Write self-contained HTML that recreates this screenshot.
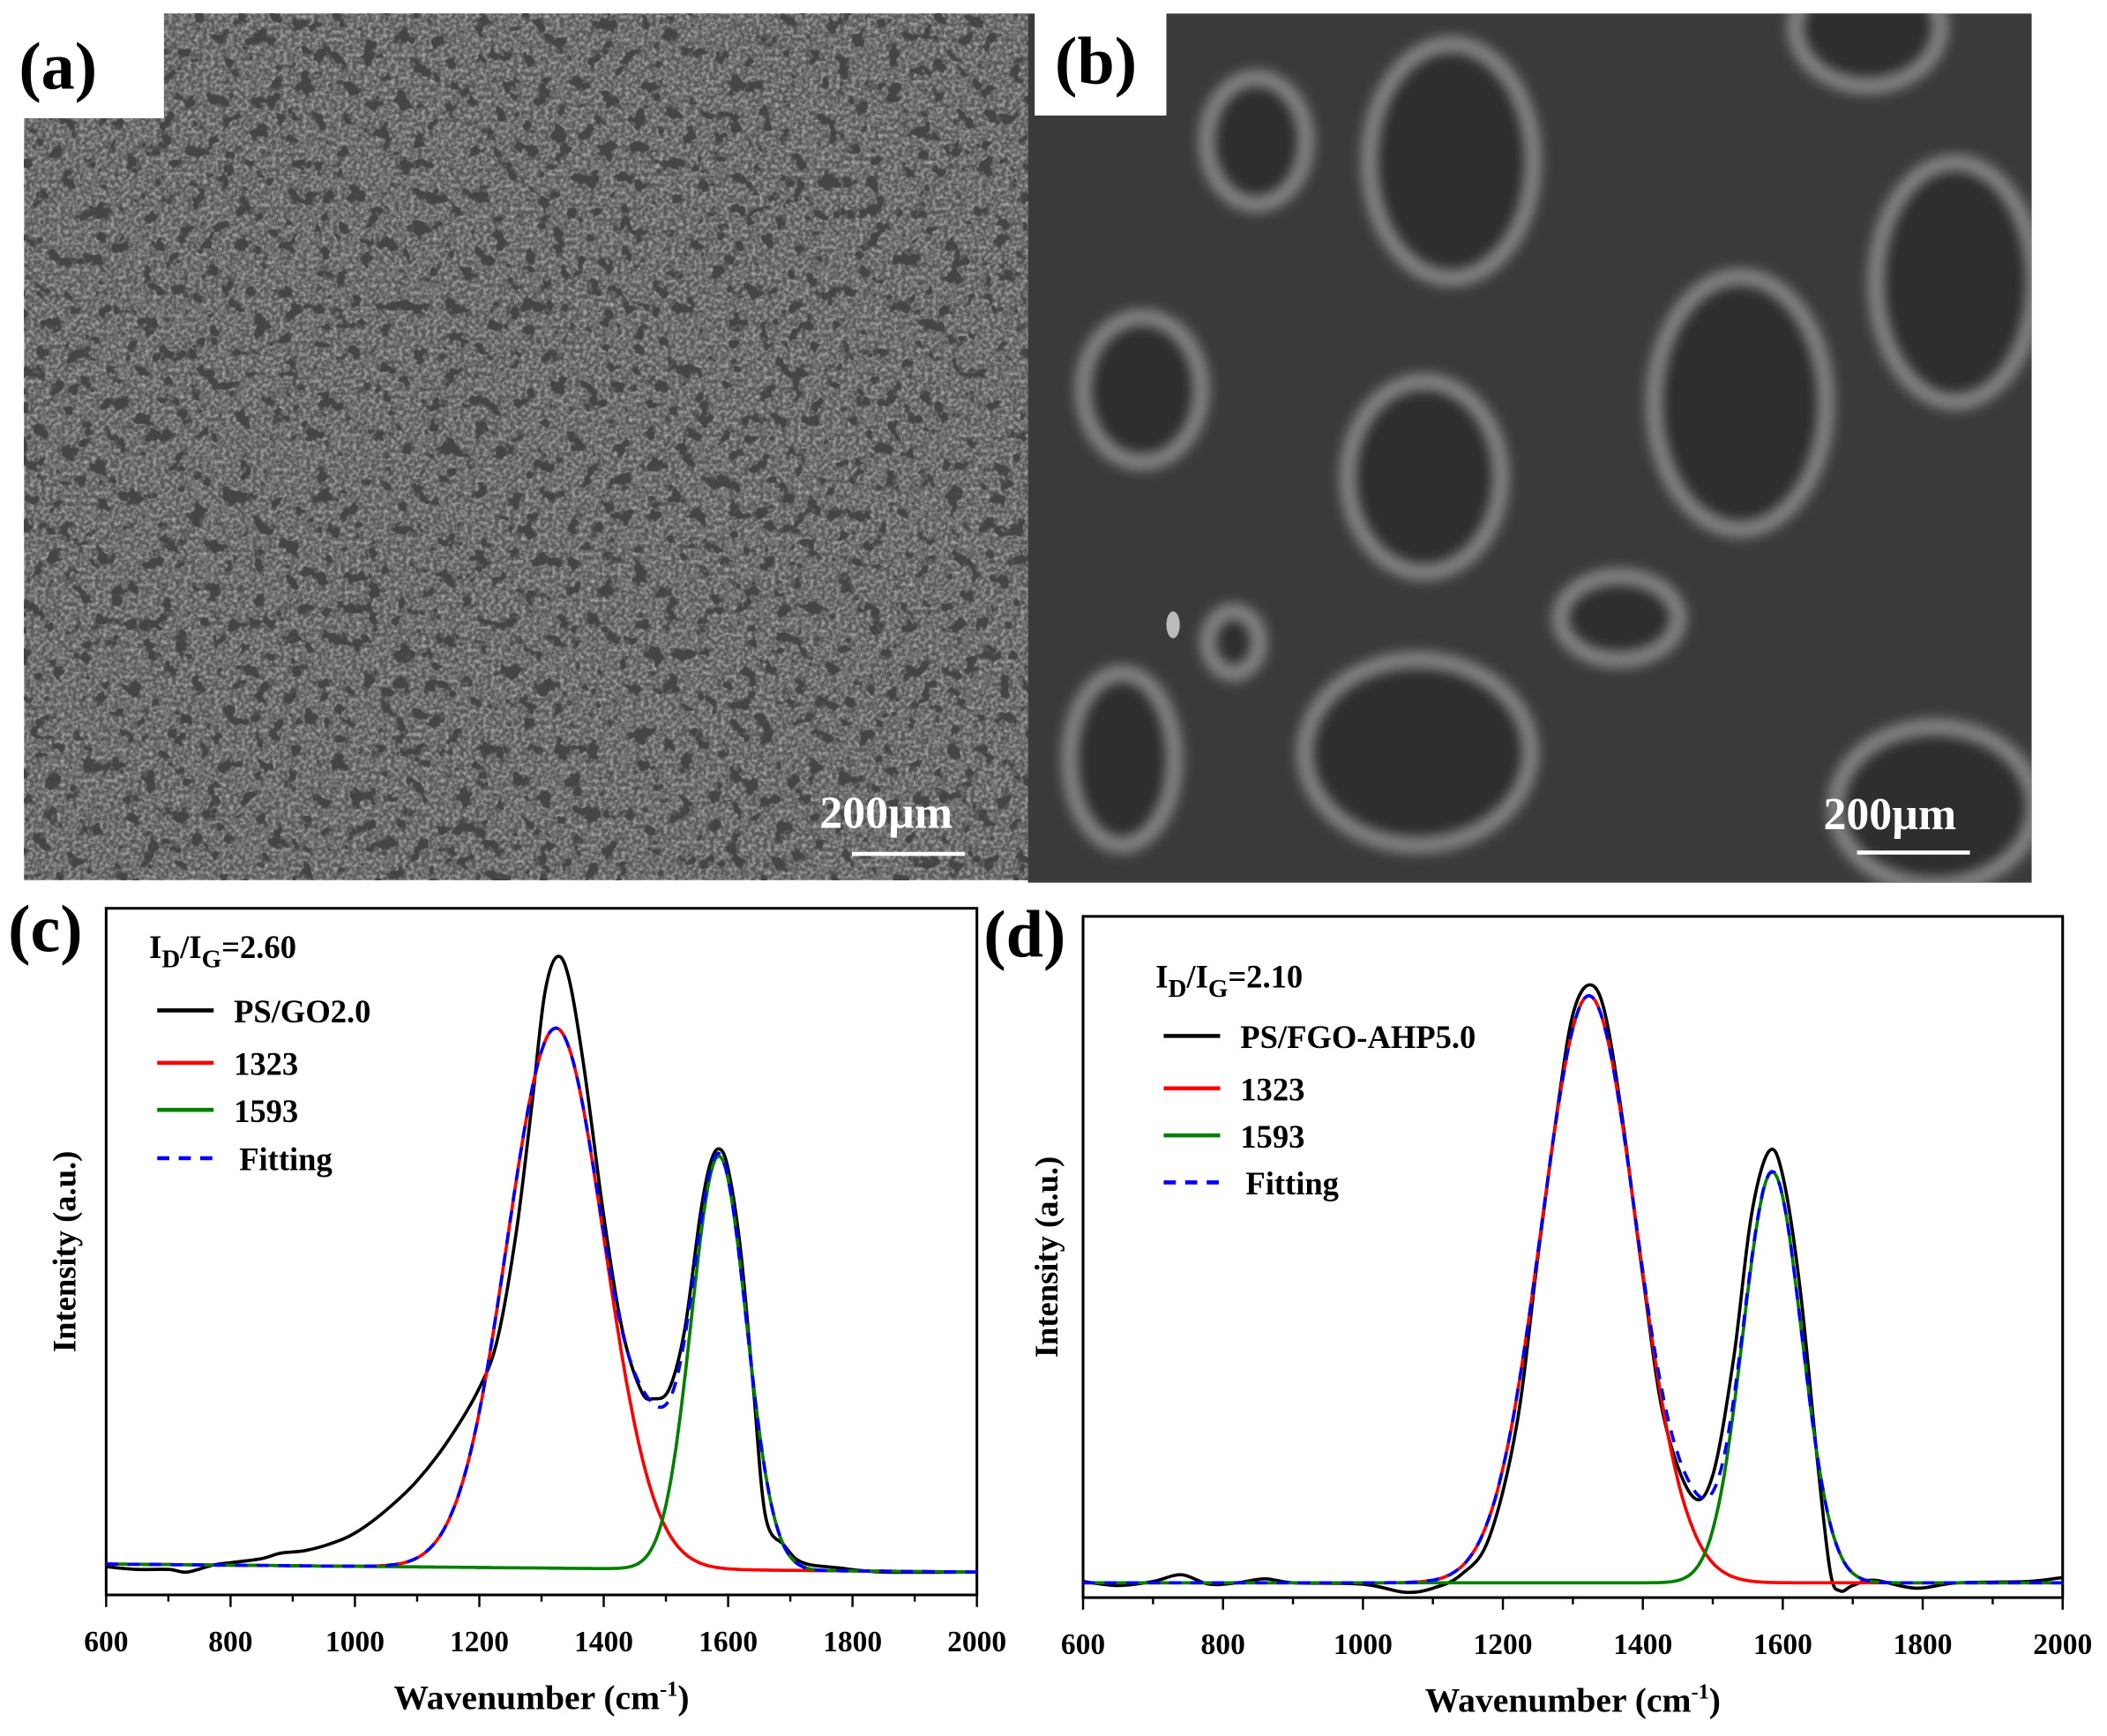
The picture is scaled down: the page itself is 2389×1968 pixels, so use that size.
<!DOCTYPE html>
<html><head><meta charset="utf-8"><style>
html,body{margin:0;padding:0;background:#fff;}
svg{display:block;}
text{font-family:"Liberation Serif",serif;font-weight:bold;}
</style></head><body>
<svg id="s" width="2389" height="1968" viewBox="0 0 1568 1292" preserveAspectRatio="none" xmlns="http://www.w3.org/2000/svg">
<defs>
<filter id="pores" x="0" y="0" width="100%" height="100%">
<feTurbulence type="fractalNoise" baseFrequency="0.085" numOctaves="3" seed="7"/>
<feColorMatrix type="matrix" values="0 0 0 0 0.06  0 0 0 0 0.06  0 0 0 0 0.06  -12 0 0 0 5.0"/>
</filter>
<filter id="grain" x="0" y="0" width="100%" height="100%">
<feTurbulence type="fractalNoise" baseFrequency="0.35" numOctaves="2" seed="2"/>
<feColorMatrix type="matrix" values="0 0 0 0 0.6  0 0 0 0 0.6  0 0 0 0 0.6  1.4 0 0 0 -0.5"/>
</filter>
<filter id="blur2"><feGaussianBlur stdDeviation="5"/></filter>
<clipPath id="cb"><rect x="765" y="10" width="747" height="647"/></clipPath>
</defs>

<rect x="18" y="10" width="747" height="645" fill="#595959"/>
<rect x="18" y="10" width="747" height="645" filter="url(#grain)"/>
<rect x="18" y="10" width="747" height="645" filter="url(#pores)"/>
<rect x="10" y="8" width="112" height="80" fill="#fff"/>
<text x="14" y="66" font-size="50">(a)</text>
<text x="610" y="616" font-size="34" fill="#fff">200µm</text>
<rect x="634" y="634" width="84" height="3" fill="#fff"/>

<g clip-path="url(#cb)">
<rect x="765" y="10" width="747" height="647" fill="#3a3a3a"/>
<g fill="#2e2e2e" stroke="#9a9a9a" stroke-width="8" filter="url(#blur2)">
<ellipse cx="935" cy="105" rx="38" ry="48"/>
<ellipse cx="1080" cy="120" rx="62" ry="88"/>
<ellipse cx="1455" cy="210" rx="60" ry="90"/>
<ellipse cx="1295" cy="300" rx="65" ry="95"/>
<ellipse cx="1060" cy="355" rx="58" ry="72"/>
<ellipse cx="850" cy="290" rx="45" ry="55"/>
<ellipse cx="1205" cy="460" rx="45" ry="32"/>
<ellipse cx="918" cy="478" rx="20" ry="24"/>
<ellipse cx="1055" cy="560" rx="85" ry="70"/>
<ellipse cx="835" cy="565" rx="40" ry="65"/>
<ellipse cx="1440" cy="600" rx="75" ry="60"/>
<ellipse cx="1390" cy="20" rx="55" ry="45"/>
</g>
<ellipse cx="873" cy="465" rx="5" ry="10" fill="#bbb"/>
</g>
<rect x="770" y="8" width="98" height="78" fill="#fff"/>
<text x="785" y="62" font-size="50">(b)</text>
<text x="1357" y="617" font-size="34" fill="#fff">200µm</text>
<rect x="1382" y="633" width="84" height="3" fill="#fff"/>

<text x="6" y="708" font-size="50">(c)</text>
<text x="732" y="712" font-size="50">(d)</text>

<g id="pc"></g>
<g id="pd"></g>
</svg>
<script>
const NS="http://www.w3.org/2000/svg";
function el(p,t,a,txt){const e=document.createElementNS(NS,t);for(const k in a)e.setAttribute(k,a[k]);if(txt!==undefined)e.textContent=txt;p.appendChild(e);return e;}
function cr(pts){let d="M"+pts[0][0].toFixed(1)+" "+pts[0][1].toFixed(1);for(let i=0;i<pts.length-1;i++){const p0=pts[i-1]||pts[i],p1=pts[i],p2=pts[i+1],p3=pts[i+2]||p2;const c1=[p1[0]+(p2[0]-p0[0])/6,p1[1]+(p2[1]-p0[1])/6],c2=[p2[0]-(p3[0]-p1[0])/6,p2[1]-(p3[1]-p1[1])/6];d+=" C"+c1[0].toFixed(1)+" "+c1[1].toFixed(1)+" "+c2[0].toFixed(1)+" "+c2[1].toFixed(1)+" "+p2[0].toFixed(1)+" "+p2[1].toFixed(1);}return d;}
function panel(g,o){
 const X=x=>o.L+(x-600)*(o.R-o.L)/1400;
 const base=x=>o.b0+(x-600)/1400*(o.b1-o.b0);
 el(g,"rect",{x:o.L,y:o.T,width:o.R-o.L,height:o.B-o.T,fill:"none",stroke:"#000","stroke-width":2});
 for(let v=600;v<=2000;v+=100){const big=v%200==0;el(g,"line",{x1:X(v),x2:X(v),y1:o.B,y2:o.B+(big?9:5),stroke:"#000","stroke-width":1.6});
  if(big)el(g,"text",{x:X(v),y:o.B+42,"font-size":22,"text-anchor":"middle"},v);}
 const xl=el(g,"text",{x:(o.L+o.R)/2,y:o.B+85,"font-size":26,"text-anchor":"middle"});
 xl.innerHTML='Wavenumber (cm<tspan dy="-10" font-size="16">-1</tspan><tspan dy="10">)</tspan>';
 el(g,"text",{x:0,y:0,"font-size":24,"text-anchor":"middle",transform:`translate(${o.yl},${(o.T+o.B)/2}) rotate(-90)`},"Intensity (a.u.)");
 const gauss=(x,c,s,h)=>h*Math.exp(-(x-c)*(x-c)/(2*s*s));
 const red=[],grn=[],blu=[];
 for(let x=600;x<=2000;x+=4){const r=gauss(x,o.rc,o.rs,o.rh),gg=gauss(x,o.gc,o.gs,o.gh);
  red.push([X(x),base(x)-r]);grn.push([X(x),base(x)-gg]);blu.push([X(x),base(x)-r-gg-gauss(x,o.ec,o.es,o.eh)]);}
 const line=(pts,c,w,da)=>{let d="M"+pts.map(p=>p[0].toFixed(1)+" "+p[1].toFixed(1)).join(" L");const a={d:d,fill:"none",stroke:c,"stroke-width":w,"stroke-linejoin":"round"};if(da)a["stroke-dasharray"]=da;el(g,"path",a);};
 el(g,"path",{d:cr(o.black.map(p=>[X(p[0]),p[1]])),fill:"none",stroke:"#000","stroke-width":2.4});
 line(red,"#ff0000",2.4);line(grn,"#008000",2.4);line(blu,"#0000ff",2.4,"9 7");
 const t=el(g,"text",{x:o.lx-6,y:o.ly,"font-size":24});
 t.innerHTML='I<tspan dy="7" font-size="19">D</tspan><tspan dy="-7">/I</tspan><tspan dy="7" font-size="19">G</tspan><tspan dy="-7">='+o.ratio+'</tspan>';
 const items=[["#000",o.name,null],["#ff0000","1323",null],["#008000","1593",null],["#0000ff","Fitting","9 7"]];
 items.forEach((it,i)=>{const y=o.ly+o.ls[i];const a={x1:o.lx,x2:o.lx+42,y1:y,y2:y,stroke:it[0],"stroke-width":3};if(it[2])a["stroke-dasharray"]=it[2];el(g,"line",a);
  el(g,"text",{x:o.lx+(i==3?61:57),y:y+9,"font-size":24},it[1]);});
}
panel(document.getElementById("pc"),{L:79,R:727,T:676,B:1187,b0:1164,b1:1170,yl:56,
 rc:1323,rs:78,rh:402,gc:1585,gs:44,gh:308,ec:1480,es:35,eh:52,
 lx:117,ly:713,ls:[39,78,113,149],ratio:"2.60",name:"PS/GO2.0",
 black:[[600,1166],[650,1168],[700,1168],[730,1170],[770,1165],[800,1163],[850,1160],[880,1156],[920,1154],[960,1149],[1000,1141],[1050,1124],[1100,1102],[1150,1072],[1200,1033],[1230,995],[1260,915],[1285,820],[1305,740],[1325,712],[1345,730],[1370,800],[1400,905],[1430,990],[1460,1035],[1480,1041],[1505,1034],[1530,990],[1555,905],[1570,868],[1585,855],[1600,870],[1620,930],[1640,1030],[1660,1128],[1690,1150],[1720,1163],[1780,1167],[1850,1170],[2000,1170]]});
panel(document.getElementById("pd"),{L:806,R:1535,T:682,B:1189,b0:1178,b1:1178,yl:787,
 rc:1323,rs:68,rh:437,gc:1585,gs:42,gh:306,ec:1470,es:30,eh:22,
 lx:866,ly:735,ls:[36,75,110,145],ratio:"2.10",name:"PS/FGO-AHP5.0",
 black:[[600,1177],[650,1180],[700,1177],[740,1172],[780,1179],[820,1178],[860,1175],[900,1178],[1000,1179],[1060,1185],[1100,1182],[1140,1172],[1180,1145],[1220,1060],[1250,935],[1280,818],[1300,755],[1323,733],[1345,752],[1370,830],[1400,950],[1430,1055],[1470,1113],[1500,1098],[1530,1010],[1555,905],[1580,857],[1600,875],[1625,960],[1650,1090],[1668,1170],[1682,1184],[1700,1180],[1730,1176],[1790,1182],[1850,1178],[1950,1177],[2000,1174]]});
</script>
</body></html>
